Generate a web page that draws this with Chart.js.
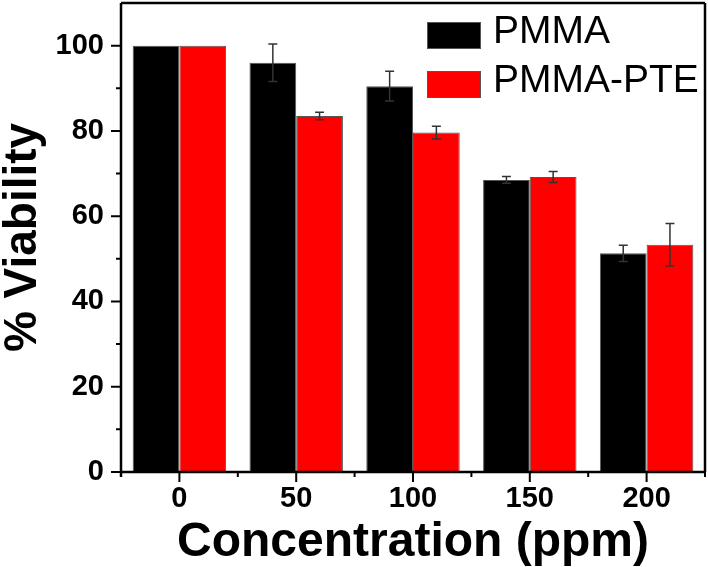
<!DOCTYPE html>
<html><head><meta charset="utf-8">
<script src="https://cdn.jsdelivr.net/npm/chart.js@4/dist/chart.umd.min.js"></script>
<style>html,body{margin:0;padding:0;background:#fff;}</style>
</head><body>
<canvas id="c" width="708" height="567" style="display:block;width:708px;height:567px"></canvas>
<script>
const categories = ['0', '50', '100', '150', '200'];
const pmma = [100, 96.0, 90.5, 68.5, 51.3];
const pmmaErr = [0, 4.4, 3.5, 0.8, 1.9];
const pmmaPte = [100, 83.5, 79.6, 69.2, 53.3];
const pmmaPteErr = [0, 0.9, 1.5, 1.3, 5.0];
const yTicks = [0, 20, 40, 60, 80, 100];
const yMinorTicks = [10, 30, 50, 70, 90];
const seriesNames = ['PMMA', 'PMMA-PTE'];
const seriesColors = ['#000000', '#ff0000'];
const errors = [pmmaErr, pmmaPteErr];

const FONT = '"Liberation Sans", Arial, sans-serif';

const framePlugin = {
  id: 'frame',
  afterDatasetsDraw(chart) {
    const ctx = chart.ctx;
    const ys = chart.scales.y;
    ctx.save();
    ctx.strokeStyle = '#333';
    ctx.lineWidth = 1.5;
    chart.data.datasets.forEach((ds, di) => {
      const meta = chart.getDatasetMeta(di);
      meta.data.forEach((bar, i) => {
        const e = errors[di][i];
        if (!e) return;
        const v = ds.data[i];
        const yt = ys.getPixelForValue(v + e), yb = ys.getPixelForValue(v - e);
        const x = bar.x;
        ctx.beginPath();
        ctx.moveTo(x, yt); ctx.lineTo(x, yb);
        ctx.moveTo(x - 4.5, yt); ctx.lineTo(x + 4.5, yt);
        ctx.moveTo(x - 4.5, yb); ctx.lineTo(x + 4.5, yb);
        ctx.stroke();
      });
    });
    ctx.restore();
  },
  afterDraw(chart) {
    const ctx = chart.ctx;
    const a = chart.chartArea;
    const ys = chart.scales.y, xs = chart.scales.x;
    ctx.save();
    ctx.strokeStyle = '#000';
    ctx.lineWidth = 2.5;
    ctx.beginPath();
    ctx.moveTo(a.left, a.top); ctx.lineTo(a.left, a.bottom + 5);
    ctx.moveTo(a.left, a.bottom); ctx.lineTo(a.right, a.bottom);
    ctx.moveTo(a.left, a.top); ctx.lineTo(a.right, a.top);
    ctx.moveTo(a.right, a.top); ctx.lineTo(a.right, a.bottom);
    ctx.stroke();
    ctx.lineWidth = 2;
    ctx.beginPath();
    yTicks.forEach(v => { const y = ys.getPixelForValue(v); ctx.moveTo(a.left - 10, y); ctx.lineTo(a.left, y); });
    yMinorTicks.forEach(v => { const y = ys.getPixelForValue(v); ctx.moveTo(a.left - 5, y); ctx.lineTo(a.left, y); });
    const half = (xs.getPixelForTick(1) - xs.getPixelForTick(0)) / 2;
    categories.forEach((c, i) => {
      const x = xs.getPixelForTick(i);
      ctx.moveTo(x, a.bottom); ctx.lineTo(x, a.bottom + 10);
      ctx.moveTo(x - half, a.bottom); ctx.lineTo(x - half, a.bottom + 5);
      if (i === categories.length - 1) { ctx.moveTo(x + half, a.bottom); ctx.lineTo(x + half, a.bottom + 5); }
    });
    ctx.stroke();
    // legend
    ctx.font = '39px ' + FONT;
    ctx.textBaseline = 'alphabetic';
    ctx.textAlign = 'left';
    seriesNames.forEach((n, i) => {
      const top = 22 + i * 49;
      ctx.fillStyle = seriesColors[i];
      ctx.fillRect(427, top, 54, 27);
      ctx.strokeStyle = '#555';
      ctx.lineWidth = 1;
      ctx.strokeRect(427.5, top + 0.5, 53, 26);
      ctx.fillStyle = '#000';
      ctx.fillText(n, 493, 43 + i * 49);
    });
    ctx.restore();
  }
};

new Chart(document.getElementById('c'), {
  type: 'bar',
  data: {
    labels: categories,
    datasets: [
      { label: seriesNames[0], data: pmma, backgroundColor: seriesColors[0], borderColor: '#555', borderWidth: 1 },
      { label: seriesNames[1], data: pmmaPte, backgroundColor: seriesColors[1], borderColor: '#555', borderWidth: 1 }
    ]
  },
  options: {
    responsive: false,
    animation: false,
    layout: { padding: { top: 3, right: 3, left: 0, bottom: 0 } },
    plugins: { legend: { display: false }, tooltip: { enabled: false } },
    datasets: { bar: { categoryPercentage: 0.8, barPercentage: 1.0 } },
    scales: {
      x: {
        offset: true,
        grid: { display: false, drawTicks: false },
        border: { display: false },
        ticks: { color: '#000', font: { family: FONT, size: 29, weight: 'bold' }, padding: 10, maxRotation: 0 },
        title: { display: true, text: 'Concentration (ppm)', color: '#000', font: { family: FONT, size: 48, weight: 'bold', lineHeight: 1 }, padding: 0 },
        afterFit(s) { s.height = 95; s.paddingLeft = 0; s.paddingRight = 0; }
      },
      y: {
        min: 0, max: 110,
        grid: { display: false, drawTicks: false },
        border: { display: false },
        afterBuildTicks(s) { s.ticks = yTicks.map(v => ({ value: v })); },
        ticks: { color: '#000', font: { family: FONT, size: 29, weight: 'bold' }, padding: 17 },
        title: { display: true, text: '% Viability', color: '#000', font: { family: FONT, size: 46, weight: 'bold', lineHeight: 1 }, padding: 0 },
        afterFit(s) { s.width = 121; s.paddingTop = 0; s.paddingBottom = 0; }
      }
    }
  },
  plugins: [framePlugin]
});
</script>
</body></html>
